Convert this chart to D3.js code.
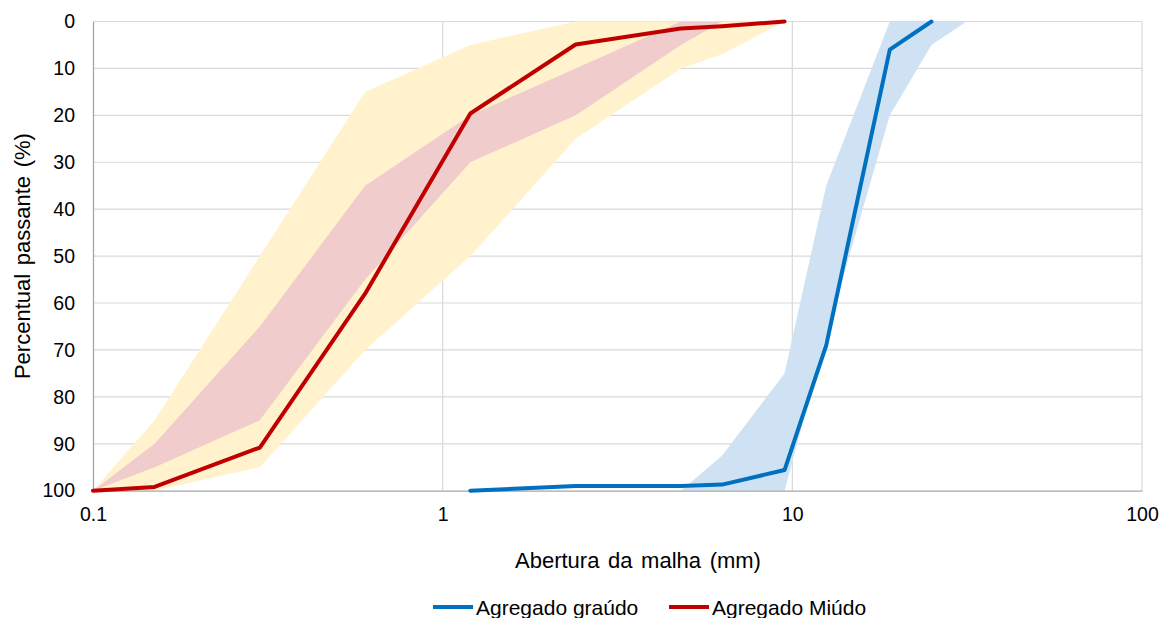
<!DOCTYPE html>
<html>
<head>
<meta charset="utf-8">
<script src="https://cdn.jsdelivr.net/npm/d3@7"></script>
<style>
  body { margin: 0; background: #fff; }
  svg { display: block; font-family: 'Liberation Sans', Arial, sans-serif; }
</style>
</head>
<body>
<div id="chart"></div>
<script>
// sieve openings (mm) and cumulative values
const fineSieves = [0.1, 0.15, 0.3, 0.6, 1.2, 2.4, 4.8, 6.3, 9.5];
const fineValues = [100, 99.2, 90.8, 58, 19.6, 4.9, 1.5, 1, 0];
const coarseSieves = [1.2, 2.4, 4.8, 6.3, 9.5, 12.5, 19, 25];
const coarseValues = [100, 99, 99, 98.7, 95.6, 69, 6, 0];

// fine aggregate zones (usable and optimal)
const usableLow = [100, 85, 50, 15, 5, 0, 0, 0, 0];
const usableHigh = [100, 100, 95, 70, 50, 25, 10, 7, 0];
const optimalLow = [100, 90, 65, 35, 20, 10, 0, 0, 0];
const optimalHigh = [100, 95, 85, 55, 30, 20, 5, 0, 0];

// coarse aggregate zone
const coarseZoneSieves = [4.8, 6.3, 9.5, 12.5, 19, 25, 31.5];
const coarseZoneLow = [100, 92.5, 75, 35, 0, 0, 0];
const coarseZoneHigh = [100, 100, 100, 67, 20, 5, 0];

const xTicks = [0.1, 1, 10, 100];
const yTicks = [0, 10, 20, 30, 40, 50, 60, 70, 80, 90, 100];
const seriesNames = ['Agregado graúdo', 'Agregado Miúdo'];
const seriesColors = ['#0070C0', '#C00000'];

const width = 1161;
const height = 618;
const plot = { left: 93, right: 1142, top: 21.5, bottom: 490.7 };

const svg = d3.select('#chart')
  .append('svg')
  .attr('width', width)
  .attr('height', height);

const xScale = d3.scaleLog().domain([0.1, 100]).range([plot.left, plot.right]);
const yScale = d3.scaleLinear().domain([0, 100]).range([plot.top, plot.bottom]);

// gridlines
svg.append('g')
  .selectAll('line')
  .data(yTicks.slice(0, -1))
  .join('line')
  .attr('x1', plot.left).attr('x2', plot.right)
  .attr('y1', (d) => yScale(d)).attr('y2', (d) => yScale(d))
  .attr('stroke', '#D9D9D9').attr('stroke-width', 1.2);

svg.append('g')
  .selectAll('line')
  .data(xTicks.slice(1))
  .join('line')
  .attr('x1', (d) => xScale(d)).attr('x2', (d) => xScale(d))
  .attr('y1', plot.top).attr('y2', plot.bottom)
  .attr('stroke', '#D9D9D9').attr('stroke-width', 1.2);

// bands
const band = (sieves, low, high) => d3.area()
  .x((d, i) => xScale(sieves[i]))
  .y0((d, i) => yScale(low[i]))
  .y1((d, i) => yScale(high[i]))(sieves);

svg.append('path').attr('d', band(fineSieves, usableLow, usableHigh)).attr('fill', '#FFF2CC');
svg.append('path').attr('d', band(fineSieves, optimalLow, optimalHigh)).attr('fill', '#F0CCCC');
svg.append('path').attr('d', band(coarseZoneSieves, coarseZoneLow, coarseZoneHigh)).attr('fill', '#CFE2F3');

// axes
svg.append('g')
  .attr('transform', `translate(${plot.left},0)`)
  .call(d3.axisLeft(yScale).tickValues(yTicks).tickSize(0).tickPadding(18))
  .call((g) => g.select('.domain').attr('stroke', '#A6A6A6').attr('stroke-width', 1.3))
  .call((g) => g.selectAll('text').attr('font-size', 19.5).attr('fill', '#000').attr('font-family', null));

svg.append('g')
  .attr('transform', `translate(0,${plot.bottom})`)
  .call(d3.axisBottom(xScale).tickValues(xTicks).tickFormat(d3.format('')).tickSize(0).tickPadding(16))
  .call((g) => g.select('.domain').attr('stroke', '#A6A6A6').attr('stroke-width', 1.3))
  .call((g) => g.selectAll('text').attr('font-size', 19.5).attr('fill', '#000').attr('font-family', null));

// lines
const line = (sieves) => d3.line()
  .x((d, i) => xScale(sieves[i]))
  .y((d) => yScale(d));

svg.append('path')
  .attr('d', line(coarseSieves)(coarseValues))
  .attr('fill', 'none').attr('stroke', seriesColors[0])
  .attr('stroke-width', 4).attr('stroke-linejoin', 'round').attr('stroke-linecap', 'round');

svg.append('path')
  .attr('d', line(fineSieves)(fineValues))
  .attr('fill', 'none').attr('stroke', seriesColors[1])
  .attr('stroke-width', 4).attr('stroke-linejoin', 'round').attr('stroke-linecap', 'round');

// axis titles
svg.append('text')
  .attr('x', 638).attr('y', 568)
  .attr('text-anchor', 'middle').attr('font-size', 22)
  .attr('word-spacing', 2.5)
  .text('Abertura da malha (mm)');

svg.append('text')
  .attr('transform', `translate(30,${(plot.top + plot.bottom) / 2}) rotate(-90)`)
  .attr('text-anchor', 'middle').attr('font-size', 22)
  .attr('word-spacing', 2.5)
  .text('Percentual passante (%)');

// legend
const legendX = [433, 669];
const legend = svg.append('g').attr('transform', 'translate(0,607)');
seriesNames.forEach((name, i) => {
  legend.append('line')
    .attr('x1', legendX[i]).attr('x2', legendX[i] + 40)
    .attr('y1', 0).attr('y2', 0)
    .attr('stroke', seriesColors[i]).attr('stroke-width', 4);
  legend.append('text')
    .attr('x', legendX[i] + 43).attr('y', 7.5)
    .attr('font-size', 21)
    .text(name);
});
</script>
</body>
</html>
